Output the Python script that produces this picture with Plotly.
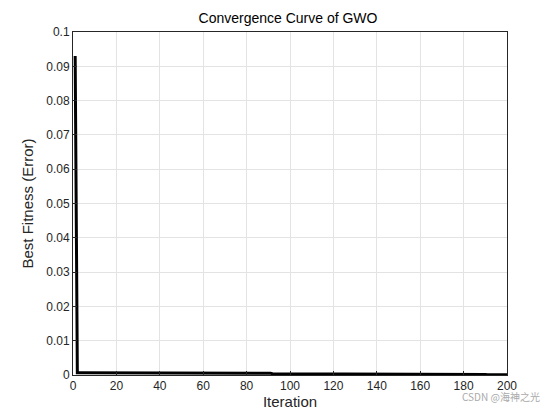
import numpy as np
import plotly.graph_objects as go

# best fitness per iteration, stored as step values and how many iterations each lasts
step_values = [0.093, 0.00062, 0.00055, 0.00048, 0.00040, 0.00032, 0.00025, 0.00018, 0.00005]
step_lengths = [1, 20, 30, 40, 30, 25, 25, 19, 10]

fitness = np.repeat(step_values, step_lengths)
iterations = np.arange(1, len(fitness) + 1)

fig = go.Figure()
fig.add_trace(go.Scatter(
    x=iterations, y=fitness, mode='lines',
    line=dict(color='black', width=3), showlegend=False
))

axis_common = dict(
    showline=True, linecolor='#262626', linewidth=1, mirror=True,
    showgrid=True, gridcolor='#e3e3e3', zeroline=False,
    ticks='inside', ticklen=4, tickcolor='#262626',
    tickfont=dict(size=12, color='#262626'),
)

fig.update_layout(
    width=560, height=420,
    paper_bgcolor='white', plot_bgcolor='white',
    font=dict(family='Liberation Sans, Arial', color='#262626'),
    margin=dict(l=65, r=61, t=24, b=53),
    title=dict(text='Convergence Curve of GWO', x=0.5, xanchor='center',
               y=0.975, yanchor='middle', font=dict(size=14, color='black')),
    xaxis=dict(axis_common, range=[0, 200], dtick=20,
               title=dict(text='Iteration', font=dict(size=15), standoff=4)),
    yaxis=dict(axis_common, range=[0, 0.1], dtick=0.01,
               title=dict(text='Best Fitness (Error)', font=dict(size=15), standoff=8)),
)

fig.add_annotation(text='CSDN @海神之光', xref='paper', yref='paper', x=1.08, y=-0.09,
                   xanchor='right', showarrow=False,
                   font=dict(size=10, color='#aaaaaa', family='Noto Sans CJK SC'))

fig.write_html("out.html")
